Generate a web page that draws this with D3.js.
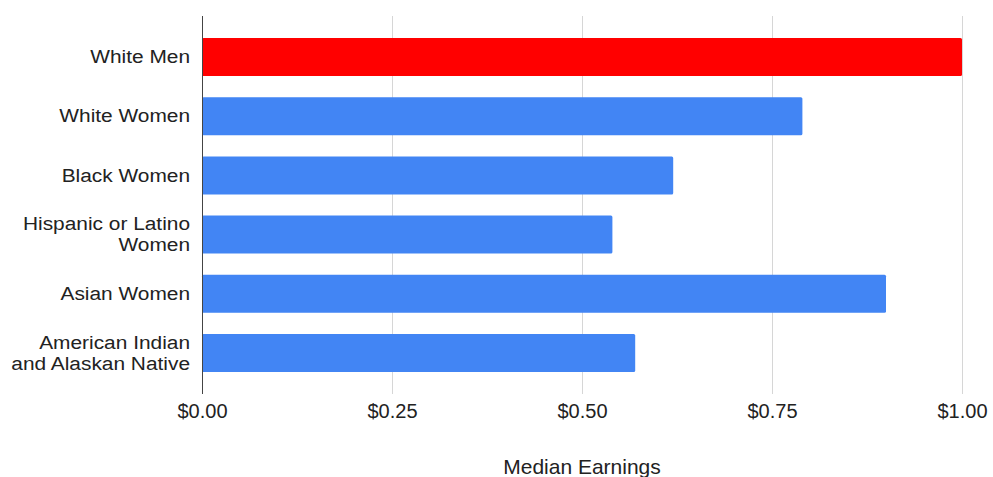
<!DOCTYPE html>
<html>
<head>
<meta charset="utf-8">
<script src="https://cdn.jsdelivr.net/npm/d3@7"></script>
<style>
  html, body { margin: 0; padding: 0; background: #fff; }
  svg { display: block; }
  text { font-family: "Liberation Sans", Arial, sans-serif; fill: #222; }
</style>
</head>
<body>
<svg id="chart" width="993" height="477"></svg>
<script>
// Median earnings per dollar earned by white men
const categories = [
  "White Men",
  "White Women",
  "Black Women",
  "Hispanic or Latino Women",
  "Asian Women",
  "American Indian and Alaskan Native"
];
// Wrapped label lines for each category
const labelLines = [
  ["White Men"],
  ["White Women"],
  ["Black Women"],
  ["Hispanic or Latino", "Women"],
  ["Asian Women"],
  ["American Indian", "and Alaskan Native"]
];
const earnings = [1.00, 0.79, 0.62, 0.54, 0.90, 0.57];
const barColors = ["#ff0000", "#4285f4", "#4285f4", "#4285f4", "#4285f4", "#4285f4"];
const tickValues = [0, 0.25, 0.5, 0.75, 1.0];
const axisTitle = "Median Earnings";

const svg = d3.select("#chart");
const plot = { left: 202, right: 962, top: 16, bottom: 394 };

const x = d3.scaleLinear().domain([0, 1]).range([plot.left, plot.right]);
const y = d3.scaleBand()
  .domain(categories)
  .range([plot.top, plot.bottom])
  .paddingInner(0.358)
  .paddingOuter(0.371);

// Vertical gridlines
svg.append("g")
  .selectAll("line")
  .data(tickValues.slice(1))
  .join("line")
  .attr("x1", d => Math.round(x(d)) + 0.5)
  .attr("x2", d => Math.round(x(d)) + 0.5)
  .attr("y1", plot.top)
  .attr("y2", plot.bottom)
  .attr("stroke", "#d6d6d6")
  .attr("stroke-width", 1);

// Bars
svg.append("g")
  .selectAll("rect")
  .data(categories)
  .join("rect")
  .attr("x", x(0))
  .attr("y", d => y(d))
  .attr("width", (d, i) => x(earnings[i]) - x(0))
  .attr("height", y.bandwidth())
  .attr("rx", 1.5)
  .attr("fill", (d, i) => barColors[i]);

// Baseline axis at zero
svg.append("line")
  .attr("x1", Math.round(x(0)) + 0.5)
  .attr("x2", Math.round(x(0)) + 0.5)
  .attr("y1", plot.top)
  .attr("y2", plot.bottom)
  .attr("stroke", "#444")
  .attr("stroke-width", 1);

// Bottom tick labels
const xAxis = d3.axisBottom(x)
  .tickValues(tickValues)
  .tickSize(0)
  .tickPadding(0)
  .tickFormat(d => "$" + d3.format(".2f")(d));

const gx = svg.append("g")
  .attr("transform", `translate(0, ${plot.bottom})`)
  .call(xAxis);
gx.select(".domain").remove();
gx.selectAll("text")
  .attr("dy", null)
  .attr("y", 24)
  .style("font-size", "20px")
  .style("fill", "#222");

// Category labels (slightly widened lettering)
const lineH = 21;
const labelGroups = svg.append("g")
  .selectAll("g")
  .data(categories)
  .join("g")
  .attr("transform", d => `translate(${plot.left - 12}, ${y(d) + y.bandwidth() / 2}) scale(1.16, 1)`);

labelGroups.each(function(d, i) {
  const lines = labelLines[i];
  const start = -(lines.length - 1) * lineH / 2;
  d3.select(this).selectAll("text")
    .data(lines)
    .join("text")
    .attr("text-anchor", "end")
    .attr("x", 0)
    .attr("y", (l, j) => start + j * lineH)
    .attr("dy", "0.35em")
    .style("font-size", "18px")
    .text(l => l);
});

// Axis title
svg.append("text")
  .attr("x", (plot.left + plot.right) / 2)
  .attr("y", 474)
  .attr("text-anchor", "middle")
  .style("font-size", "21px")
  .text(axisTitle);
</script>
</body>
</html>
